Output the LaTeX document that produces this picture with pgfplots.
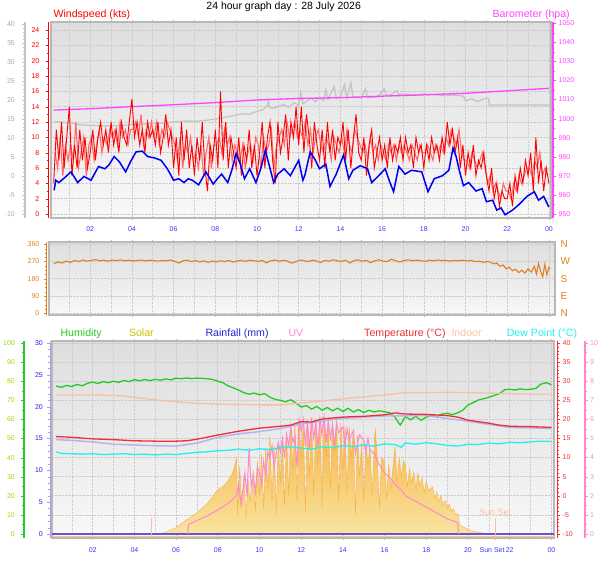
\documentclass[border=0pt]{standalone}
\usepackage{fontspec}
\setmainfont{Liberation Sans}
\usepackage{pgfplots}
\pgfplotsset{compat=1.18}
\definecolor{cRed}{HTML}{FF0000}
\definecolor{cRedL}{HTML}{FF6A6A}
\definecolor{cMag}{HTML}{FF44FF}
\definecolor{cGreyL}{HTML}{C4C4C4}
\definecolor{cGreyT}{HTML}{A8A8A8}
\definecolor{cBlue}{HTML}{0000F0}
\definecolor{cTick}{HTML}{3838FF}
\definecolor{cOr}{HTML}{E0801E}
\definecolor{cHum}{HTML}{22CC22}
\definecolor{cHumT}{HTML}{99DD00}
\definecolor{cSol}{HTML}{C8C000}
\definecolor{cRain}{HTML}{2222DD}
\definecolor{cRainL}{HTML}{6A52D8}
\definecolor{cRainT}{HTML}{A0A0F0}
\definecolor{cUV}{HTML}{FF88CC}
\definecolor{cTemp}{HTML}{F03030}
\definecolor{cInd}{HTML}{F8C0A0}
\definecolor{cDew}{HTML}{22F0F0}
\definecolor{cLav}{HTML}{B4B4F4}
\definecolor{cSolTop}{HTML}{F8B040}
\definecolor{cSolBot}{HTML}{F8E4A0}
\definecolor{bgTop}{HTML}{DEDEDE}
\definecolor{bgBot}{HTML}{F8F8F8}
\definecolor{cFrame}{HTML}{B8B8B8}
\definecolor{cGrid}{HTML}{CCCCCC}
\pgfplotsset{
  /pgf/number format/assume math mode=true,
  /pgf/number format/1000 sep={},
  panel/.style={scale only axis, anchor=south west,
    axis background/.style={shade, top color=bgTop, bottom color=bgBot},
    axis line style={cFrame, line width=1.2pt},
    xmajorgrids, xminorgrids, ymajorgrids,
    grid style={cGrid, densely dotted, line width=0.6pt},
    minor grid style={cGrid, densely dotted, line width=0.6pt},
    xtick={2,4,6,8,10,12,14,16,18,20,22,24}, minor xtick={1,3,5,7,9,11,13,15,17,19,21,23},
    tick align=outside, xtick style={cFrame, line width=0.6pt},
    major tick length=2pt, minor tick length=1.5pt,
    ytick style={draw=none}, yticklabels={},
    xticklabel style={font=\fontsize{7}{8}\selectfont, text=cTick},
    xticklabels={02,04,06,08,10,12,14,16,18,20,22,00}},
  layer/.style={scale only axis, anchor=south west, hide axis},
  sc/.style={scale only axis, width=1pt, xmin=0, xmax=1, hide x axis,
    tick align=outside, major tick length=3pt, minor tick length=2pt,
    yticklabel style={font=\fontsize{7}{7}\selectfont, inner sep=1pt},
    y axis line style={-, line width=1.6pt}},
  scl/.style={sc, anchor=south west, axis y line*=left},
  scr/.style={sc, anchor=south east, axis y line*=right},
}
\begin{document}
\begin{tikzpicture}
\useasboundingbox (0pt,0pt) rectangle (608pt,561pt);
% ---------------- titles ----------------
\node[anchor=base, font=\fontsize{10.5}{12}\selectfont] at (283.7pt,551.7pt) {24 hour graph day : 28 July 2026};
\node[anchor=base west, font=\fontsize{10.6}{12}\selectfont, text=cRed] at (50pt,543pt) {Windspeed (kts)};
\node[anchor=base east, font=\fontsize{10.6}{12}\selectfont, text=cMag] at (573.3pt,543pt) {Barometer (hpa)};
% ---------------- top panel ----------------
\begin{axis}[panel, at={(51pt,343pt)}, width=500pt, height=196pt,
  xmin=0.12, xmax=24.1, ymin=-0.52, ymax=25.04, ytick={0,2,...,24},
  xticklabel style={yshift=-3pt}]
\end{axis}
\begin{axis}[layer, at={(51pt,343pt)}, width=500pt, height=196pt,
  xmin=0.12, xmax=24.1, ymin=-11.05, ymax=40.53]
\addplot[cGreyL, line width=1.3pt] coordinates {(0.25,14.3)(1,14.0)(1.5,13.5)(2,13.3)(3,13.2)(4,13.5)(4.1,14.2)(4.2,13.5)(5,13.8)(6,14.2)(6.5,14.5)(7,14.4)(7.5,14.6)(8,15.0)(8.5,15.5)(9,16.0)(9.3,16.4)(9.6,16.2)(10,17.0)(10.3,17.5)(10.5,18.5)(10.55,19.8)(10.6,18.0)(10.8,17.8)(11,18.2)(11.3,18.8)(11.5,18.0)(11.8,19.3)(12,18.5)(12.1,22.0)(12.2,19.0)(12.6,20.5)(12.8,19.5)(13,20.6)(13.2,19.8)(13.3,22.8)(13.4,20.2)(13.7,23.5)(13.8,20.4)(14,21.0)(14.2,24.0)(14.3,20.5)(14.5,24.5)(14.6,20.8)(15,20.5)(15.2,23.0)(15.3,20.6)(15.8,20.8)(16.1,23.0)(16.2,21.2)(16.5,21.6)(16.7,22.5)(16.8,21.4)(17,21.6)(17.5,21.3)(18,21.5)(18.5,21.4)(19,21.2)(19.5,21.3)(19.9,21.0)(20,19.8)(20.3,20.3)(20.6,19.6)(20.9,20.4)(21.1,20.4)(21.15,18.7)(24.05,18.7)};
\end{axis}
\begin{axis}[layer, at={(51pt,343pt)}, width=500pt, height=196pt,
  xmin=0.12, xmax=24.1, ymin=947.9, ymax=1050.7]
\addplot[cMag, line width=1.3pt] coordinates {(0.25,1004.5)(2,1005.2)(4,1006.3)(6,1007.3)(8,1008.4)(10,1009.8)(12,1010.6)(14,1011.0)(16,1011.8)(18,1012.5)(20,1013.3)(22,1014.6)(24,1015.9)};
\end{axis}
\begin{axis}[layer, at={(51pt,343pt)}, width=500pt, height=196pt,
  xmin=0.12, xmax=24.1, ymin=-0.52, ymax=25.04]
\addplot[cRedL, line width=1.1pt] coordinates {(0.3125,8)(0.4375,6)(0.5625,10)(0.6875,5)(0.8125,9)(0.9375,7)
(1.0625,9)(1.1875,7)(1.3125,12)(1.4375,6)(1.5625,8)(1.6875,10)(1.8125,5)(1.9375,9)
(2.0625,10)(2.1875,7)(2.3125,9)(2.4375,11)(2.5625,8)(2.6875,10)(2.8125,9)(2.9375,11)
(3.0625,10)(3.1875,11)(3.3125,9)(3.4375,12)(3.5625,10)(3.6875,11)(3.8125,9)(3.9375,11)
(4.0625,11)(4.1875,12)(4.3125,10)(4.4375,13)(4.5625,9)(4.6875,11)(4.8125,10)(4.9375,12)
(5.0625,10)(5.1875,12)(5.3125,9)(5.4375,11)(5.5625,10)(5.6875,12)(5.8125,11)(5.9375,10)
(6.0625,9)(6.1875,7)(6.3125,10)(6.4375,6)(6.5625,9)(6.6875,8)(6.8125,10)(6.9375,7)
(7.0625,8)(7.1875,6)(7.3125,9)(7.4375,5)(7.5625,8)(7.6875,10)(7.8125,6)(7.9375,9)
(8.0625,9)(8.1875,10)(8.3125,8)(8.4375,11)(8.5625,9)(8.6875,10)(8.8125,7)(8.9375,9)
(9.0625,8)(9.1875,7)(9.3125,9)(9.4375,6)(9.5625,8)(9.6875,9)(9.8125,7)(9.9375,10)
(10.0625,9)(10.1875,6)(10.3125,10)(10.4375,8)(10.5625,9)(10.6875,11)(10.8125,6)(10.9375,9)
(11.0625,10)(11.1875,11)(11.3125,9)(11.4375,12)(11.5625,10)(11.6875,11)(11.8125,12)(11.9375,10)
(12.0625,11)(12.1875,10)(12.3125,12)(12.4375,9)(12.5625,11)(12.6875,8)(12.8125,10)(12.9375,11)
(13.0625,9)(13.1875,8)(13.3125,10)(13.4375,9)(13.5625,7)(13.6875,10)(13.8125,9)(13.9375,8)
(14.0625,10)(14.1875,8)(14.3125,11)(14.4375,9)(14.5625,8)(14.6875,11)(14.8125,10)(14.9375,9)
(15.0625,8)(15.1875,9)(15.3125,7)(15.4375,10)(15.5625,8)(15.6875,9)(15.8125,7)(15.9375,9)
(16.0625,8)(16.1875,7)(16.3125,9)(16.4375,8)(16.5625,9)(16.6875,7)(16.8125,9)(16.9375,8)
(17.0625,9)(17.1875,8)(17.3125,7)(17.4375,9)(17.5625,8)(17.6875,7)(17.8125,9)(17.9375,8)
(18.0625,8)(18.1875,9)(18.3125,8)(18.4375,7)(18.5625,9)(18.6875,8)(18.8125,9)(18.9375,8)
(19.0625,10)(19.1875,9)(19.3125,11)(19.4375,10)(19.5625,9)(19.6875,11)(19.8125,8)(19.9375,7)
(20.0625,7)(20.1875,6)(20.3125,8)(20.4375,7)(20.5625,6)(20.6875,7)(20.8125,8)(20.9375,6)
(21.0625,4)(21.1875,5)(21.3125,3)(21.4375,4)(21.5625,3)(21.6875,2)(21.8125,4)(21.9375,3)
(22.0625,3)(22.1875,2)(22.3125,4)(22.4375,3)(22.5625,5)(22.6875,4)(22.8125,5)(22.9375,6)
(23.0625,6)(23.1875,5)(23.3125,7)(23.4375,6)(23.5625,8)(23.6875,5)(23.8125,6)(23.9375,5)};
\addplot[cRed, line width=0.9pt] coordinates {(0.25,4)(0.375,11)(0.5,7)(0.625,12)(0.75,6)(0.875,10)
(1,14)(1.125,5)(1.25,9)(1.375,6)(1.5,11)(1.625,7)(1.75,10)(1.875,6)
(2,8)(2.125,11)(2.25,7)(2.375,10)(2.5,12)(2.625,9)(2.75,11)(2.875,8)
(3,12)(3.125,9)(3.25,11)(3.375,8)(3.5,12)(3.625,10)(3.75,9)(3.875,12)
(4,15)(4.125,10)(4.25,12)(4.375,9)(4.5,11)(4.625,8)(4.75,12)(4.875,10)
(5,11)(5.125,9)(5.25,12)(5.375,8)(5.5,10)(5.625,13)(5.75,9)(5.875,11)
(6,6)(6.125,10)(6.25,5)(6.375,12)(6.5,7)(6.625,11)(6.75,6)(6.875,9)
(7,5)(7.125,10)(7.25,7)(7.375,12)(7.5,6)(7.625,3)(7.75,9)(7.875,7)
(8,11)(8.125,6)(8.25,16)(8.375,7)(8.5,12)(8.625,6)(8.75,10)(8.875,8)
(9,6)(9.125,10)(9.25,5)(9.375,9)(9.5,7)(9.625,11)(9.75,6)(9.875,9)
(10,5)(10.125,8)(10.25,12)(10.375,6)(10.5,10)(10.625,12)(10.75,7)(10.875,4)
(11,12)(11.125,8)(11.25,10)(11.375,13)(11.5,7)(11.625,12)(11.75,10)(11.875,14)
(12,9)(12.125,14)(12.25,8)(12.375,13)(12.5,10)(12.625,6)(12.75,12)(12.875,9)
(13,7)(13.125,11)(13.25,6)(13.375,12)(13.5,8)(13.625,11)(13.75,7)(13.875,10)
(14,9)(14.125,12)(14.25,7)(14.375,11)(14.5,6)(14.625,10)(14.75,13)(14.875,8)
(15,7)(15.125,10)(15.25,5)(15.375,9)(15.5,11)(15.625,6)(15.75,8)(15.875,10)
(16,7)(16.125,9)(16.25,6)(16.375,10)(16.5,7)(16.625,9)(16.75,8)(16.875,10)
(17,7)(17.125,10)(17.25,8)(17.375,9)(17.5,6)(17.625,10)(17.75,8)(17.875,9)
(18,6)(18.125,9)(18.25,7)(18.375,10)(18.5,8)(18.625,9)(18.75,7)(18.875,10)
(19,8)(19.125,12)(19.25,9)(19.375,11)(19.5,8)(19.625,10)(19.75,6)(19.875,9)
(20,5)(20.125,8)(20.25,6)(20.375,9)(20.5,5)(20.625,7)(20.75,6)(20.875,8)
(21,5)(21.125,3)(21.25,6)(21.375,2)(21.5,4)(21.625,1)(21.75,3)(21.875,2)
(22,2)(22.125,4)(22.25,1)(22.375,5)(22.5,3)(22.625,6)(22.75,4)(22.875,7)
(23,5)(23.125,8)(23.25,3)(23.375,10)(23.5,4)(23.625,7)(23.75,3)(23.875,6)(24,4)};
\addplot[cBlue, line width=1.5pt] coordinates {(0.27,3.1)(0.35,4.4)(0.5,4.1)(0.8,4.8)(1.08,5.5)(1.4,4.1)(1.7,4.9)(2.04,4.4)(2.4,6.2)(2.7,5.9)(2.9,6.4)(3.15,7.5)(3.4,6.8)(3.7,5.5)(3.95,6.9)(4.2,8.1)(4.5,8.2)(4.75,7.5)(5.1,7.3)(5.4,7.0)(5.7,5.9)(6.0,4.4)(6.25,4.6)(6.5,4.1)(6.7,4.6)(6.9,4.4)(7.2,3.8)(7.55,5.5)(7.9,3.9)(8.1,4.6)(8.3,5.2)(8.6,4.1)(8.8,5.8)(9.0,7.9)(9.2,6.5)(9.4,4.6)(9.65,5.9)(9.95,4.1)(10.2,6.1)(10.4,8.3)(10.6,6.2)(10.8,4.1)(11.0,5.2)(11.3,5.9)(11.6,5.0)(12.0,7.0)(12.2,4.4)(12.3,5.1)(12.55,8.1)(12.8,7.0)(13.0,5.9)(13.3,6.5)(13.5,3.6)(13.8,5.2)(14.15,7.7)(14.4,4.6)(14.6,5.7)(14.95,6.3)(15.3,5.9)(15.5,4.1)(15.8,4.9)(16.15,5.9)(16.35,4.3)(16.55,2.9)(16.8,6.2)(17.1,5.2)(17.4,5.7)(17.65,5.6)(17.9,5.5)(18.2,2.9)(18.5,4.6)(18.9,5.0)(19.2,5.7)(19.4,8.6)(19.55,7.5)(19.7,5.7)(19.9,3.7)(20.15,4.1)(20.5,3.0)(20.8,3.3)(21.0,1.6)(21.3,1.8)(21.5,0.5)(21.7,0.8)(21.9,-0.1)(22.25,0.5)(22.55,1.2)(22.95,2.3)(23.3,2.9)(23.5,1.8)(23.75,2.3)(24.0,0.9)};
\end{axis}
% top scales
\begin{axis}[scl, at={(25pt,343pt)}, height=196pt, ymin=-11.05, ymax=40.53,
  ytick={-10,-5,...,40}, minor y tick num=4, y axis line style={cGreyL},
  ytick style={cGreyL}, yticklabel style={text=cGreyT, xshift=-6pt}]
\end{axis}
\begin{axis}[scl, at={(48.5pt,343pt)}, height=196pt, ymin=-0.52, ymax=25.04,
  ytick={0,2,...,24}, minor y tick num=1, y axis line style={cRed},
  ytick style={cRed}, yticklabel style={text=cRed, xshift=-5pt}]
\end{axis}
\begin{axis}[scr, at={(553pt,343pt)}, height=196pt, ymin=947.9, ymax=1050.7,
  ytick={950,960,...,1050}, minor y tick num=1, y axis line style={cMag},
  ytick style={cMag}, yticklabel style={text=cMag, xshift=1.5pt}]
\end{axis}
% ---------------- middle panel ----------------
\begin{axis}[panel, at={(49pt,246pt)}, width=506pt, height=73pt,
  xmin=0.024, xmax=24.29, ymin=-8.9, ymax=372, ytick={0,90,...,360},
  xticklabels={}, yticklabels={N,E,S,W,N}, yticklabel pos=right,
  yticklabel style={text=cOr, font=\fontsize{10}{11}\selectfont}]
\addplot[cOr, line width=1.1pt] coordinates {(0.25,258)(0.45,268)(0.65,262)(0.85,272)(1.05,266)(1.25,275)(1.45,270)(1.65,278)(1.85,272)(2.05,276)(2.25,280)(2.45,274)(2.65,277)(2.85,272)(3.05,278)(3.25,275)(3.45,279)(3.65,274)(3.85,277)(4.05,273)(4.25,276)(4.45,278)(4.65,274)(4.85,277)(5.05,275)(5.25,272)(5.45,276)(5.65,274)(5.85,278)(6.05,271)(6.25,262)(6.45,274)(6.65,277)(6.85,270)(7.05,275)(7.25,268)(7.45,273)(7.65,266)(7.85,272)(8.05,268)(8.25,274)(8.45,270)(8.65,276)(8.85,267)(9.05,273)(9.25,276)(9.45,271)(9.65,277)(9.85,274)(10.05,270)(10.25,276)(10.45,263)(10.65,274)(10.85,278)(11.05,272)(11.25,276)(11.45,273)(11.65,262)(11.85,268)(12.05,278)(12.25,274)(12.45,270)(12.65,277)(12.85,273)(13.05,265)(13.25,276)(13.45,272)(13.65,279)(13.85,274)(14.05,270)(14.25,277)(14.45,262)(14.65,275)(14.85,279)(15.05,272)(15.25,276)(15.45,264)(15.65,274)(15.85,279)(16.05,272)(16.25,270)(16.45,282)(16.65,274)(16.85,268)(17.05,276)(17.25,279)(17.45,274)(17.65,277)(17.85,275)(18.05,270)(18.25,277)(18.45,274)(18.65,278)(18.85,275)(19.05,277)(19.25,272)(19.45,276)(19.65,274)(19.85,277)(20.05,273)(20.25,276)(20.45,270)(20.65,272)(20.85,266)(21.05,270)(21.2,266)(21.35,258)(21.5,262)(21.65,245)(21.8,252)(21.95,232)(22.1,240)(22.25,222)(22.4,230)(22.55,212)(22.7,225)(22.85,210)(23.0,232)(23.15,215)(23.3,245)(23.4,205)(23.5,260)(23.6,220)(23.7,190)(23.8,255)(23.9,200)(24.0,240)(24.05,230)};
\end{axis}
\begin{axis}[scl, at={(46.5pt,246pt)}, height=73pt, ymin=-8.9, ymax=372,
  ytick={0,90,...,360}, minor y tick num=3, y axis line style={cOr, line width=0.8pt},
  ytick style={cOr}, yticklabel style={text=cOr, xshift=-3pt}]
\end{axis}
% ---------------- bottom labels ----------------
\node[anchor=base west, font=\fontsize{10.6}{12}\selectfont, text=cHum] at (57pt,224pt) {Humidity};
\node[anchor=base west, font=\fontsize{10.6}{12}\selectfont, text=cSol] at (125.5pt,224pt) {Solar};
\node[anchor=base west, font=\fontsize{10.6}{12}\selectfont, text=cRain] at (202pt,224pt) {Rainfall (mm)};
\node[anchor=base west, font=\fontsize{10.6}{12}\selectfont, text=cUV] at (285pt,224pt) {UV};
\node[anchor=base west, font=\fontsize{10.6}{12}\selectfont, text=cTemp] at (360.7pt,224pt) {Temperature (°C)};
\node[anchor=base west, font=\fontsize{10.6}{12}\selectfont, text=cInd] at (448pt,224pt) {Indoor};
\node[anchor=base west, font=\fontsize{10.6}{12}\selectfont, text=cDew] at (503.3pt,224pt) {Dew Point (°C)};
% ---------------- bottom panel ----------------
\begin{axis}[panel, at={(52pt,23pt)}, width=502pt, height=197pt,
  xmin=0.048, xmax=24.125, ymin=-11.05, ymax=40.52, ytick={-10,-5,...,40},
  xticklabel style={yshift=-4pt},
  extra x ticks={21.3}, extra x tick labels={Sun Set},
  extra x tick style={grid=none, xticklabel style={xshift=-3pt}}]
\end{axis}
\begin{axis}[layer, at={(52pt,23pt)}, width=502pt, height=197pt,
  xmin=0.048, xmax=24.125, ymin=-0.63, ymax=30.31]
\addplot[draw=cSolTop, line width=0.4pt, top color=cSolTop, bottom color=cSolBot] coordinates {(5.2,0)(5.5,0.3)(6.0,1.0)(6.5,2.2)(7.0,3.3)(7.5,4.8)(8.0,6.9)(8.3,7.6)(8.5,8.4)(8.7,9.5)(8.9,11.9)(8.95,3.0)(9.05,10.6)(9.15,4.0)(9.25,9.0)(9.35,2.5)(9.45,8.5)(9.55,5.0)(9.7,10.0)(9.8,3.5)(9.9,11.5)(10.0,6.0)(10.1,12.5)(10.2,4.0)(10.3,13.5)(10.4,7.0)(10.5,15.3)(10.6,5.0)(10.7,14.0)(10.8,3.0)(10.9,14.2)(11.0,8.0)(11.1,15.0)(11.2,4.5)(11.3,16.0)(11.4,6.0)(11.5,16.9)(11.6,10.0)(11.7,17.2)(11.8,5.0)(11.9,17.7)(12.0,12.0)(12.1,17.5)(12.2,3.5)(12.3,17.9)(12.4,9.0)(12.5,17.9)(12.6,6.0)(12.7,18.2)(12.8,11.0)(12.9,18.4)(13.0,4.0)(13.1,18.4)(13.2,12.0)(13.3,18.0)(13.4,7.0)(13.5,17.8)(13.6,13.0)(13.7,17.9)(13.8,5.0)(13.9,17.5)(14.0,10.0)(14.1,17.0)(14.2,6.0)(14.3,16.8)(14.4,12.0)(14.5,16.3)(14.6,3.0)(14.7,15.5)(14.8,9.0)(14.9,14.5)(15.0,5.0)(15.1,14.2)(15.2,11.0)(15.3,13.5)(15.4,6.0)(15.55,16.6)(15.65,12.0)(15.75,4.0)(15.85,12.0)(16.0,11.4)(16.1,5.5)(16.2,11.0)(16.3,7.0)(16.4,10.5)(16.5,13.7)(16.6,8.0)(16.7,12.0)(16.8,9.0)(16.9,11.5)(17.0,10.6)(17.1,7.5)(17.2,10.3)(17.3,8.0)(17.4,9.8)(17.5,7.0)(17.6,9.5)(17.7,7.5)(17.8,8.8)(17.9,6.5)(18.0,8.3)(18.1,6.8)(18.3,7.4)(18.4,5.5)(18.5,6.6)(18.6,5.0)(18.7,6.0)(18.8,4.5)(18.9,5.3)(19.0,4.0)(19.1,4.7)(19.2,3.5)(19.3,4.0)(19.4,3.0)(19.5,3.2)(19.6,1.5)(19.7,1.2)(19.9,0.9)(20.0,0.6)(20.3,0.4)(20.6,0.2)(20.8,0.1)(20.9,0)} \closedcycle;
\addplot[cSolTop!50!cSolBot, line width=1.5pt] coordinates {(0,-0.42)(24.2,-0.42)};
\addplot[cRainL, line width=2pt] coordinates {(0,0)(24.2,0)};
\addplot[cInd, line width=1pt] coordinates {(4.8,-0.7)(4.8,2.5)};
\addplot[cInd, line width=1pt] coordinates {(21.3,-0.7)(21.3,2.5)};
\node[text=cInd, font=\fontsize{9}{10}\selectfont] at (axis cs:21.3,3.4) {Sun Set};
\end{axis}
\begin{axis}[layer, at={(52pt,23pt)}, width=502pt, height=197pt,
  xmin=0.048, xmax=24.125, ymin=-0.21, ymax=10.1]
\addplot[cUV, line width=1pt] coordinates {(6.55,0)(6.6,0.5)(7.0,0.7)(7.5,0.95)(8.0,1.26)(8.5,1.6)(8.9,2.0)(9.0,2.6)(9.1,1.6)(9.2,2.3)(9.3,3.2)(9.4,2.0)(9.5,4.5)(9.6,2.5)(9.7,3.0)(9.8,2.2)(9.9,3.5)(10.0,3.2)(10.1,2.6)(10.2,3.8)(10.3,3.0)(10.4,4.3)(10.5,4.0)(10.6,4.6)(10.7,3.5)(10.8,4.2)(10.9,4.8)(11.0,4.3)(11.1,5.0)(11.2,4.0)(11.3,5.2)(11.4,4.6)(11.5,5.6)(11.6,4.8)(11.7,5.1)(11.8,3.5)(11.9,6.0)(12.0,5.4)(12.1,6.0)(12.2,4.6)(12.3,5.9)(12.4,4.4)(12.5,6.1)(12.6,5.0)(12.7,5.8)(12.8,4.5)(12.9,6.0)(13.0,5.2)(13.1,6.1)(13.2,4.8)(13.3,5.9)(13.4,5.0)(13.5,5.7)(13.6,4.6)(13.7,5.8)(13.8,5.3)(14.0,5.6)(14.1,4.6)(14.2,5.5)(14.3,4.9)(14.5,5.4)(14.6,4.2)(14.8,5.2)(15.0,4.9)(15.1,4.3)(15.2,5.0)(15.3,4.4)(15.5,4.2)(15.7,3.7)(16.0,3.2)(16.3,2.9)(16.5,2.6)(16.8,2.3)(17.0,2.0)(17.5,1.7)(18.0,1.4)(18.5,1.1)(19.0,0.8)(19.5,0.6)(19.55,0)};
\end{axis}
\begin{axis}[layer, at={(52pt,23pt)}, width=502pt, height=197pt,
  xmin=0.048, xmax=24.125, ymin=-2.09, ymax=101.05]
\addplot[cHum, line width=1.3pt] coordinates {(0.25,77.5)(0.5,76.8)(0.75,77.8)(1,77.2)(1.25,78.3)(1.5,77.6)(1.75,78.9)(2,79.5)(2.25,78.8)(2.5,79.8)(2.75,79.2)(3,80.0)(3.25,79.4)(3.5,80.4)(3.75,79.8)(4,80.8)(4.25,80.2)(4.5,80.9)(4.75,80.3)(5,81.0)(5.25,80.5)(5.5,81.2)(5.75,80.7)(6,81.6)(6.25,81.3)(6.5,81.7)(6.75,81.4)(7,81.6)(7.25,81.5)(7.5,81.3)(7.75,80.9)(8,80.0)(8.25,79.2)(8.5,77.5)(8.75,76.5)(9,75.3)(9.25,74.0)(9.5,73.2)(9.75,73.8)(10,72.9)(10.25,73.5)(10.5,71.6)(10.75,70.5)(11,70.0)(11.25,69.2)(11.5,70.3)(11.75,68.5)(12,66.5)(12.25,67.2)(12.5,65.4)(12.75,66.8)(13,64.8)(13.25,66.2)(13.5,64.5)(13.75,65.9)(14,64.2)(14.25,65.8)(14.5,63.9)(14.75,65.1)(15,63.6)(15.25,64.8)(15.5,63.9)(15.75,64.5)(16,64.0)(16.25,63.5)(16.5,61.0)(16.75,57.0)(17,61.5)(17.25,59.8)(17.5,61.6)(17.75,59.5)(18,61.2)(18.25,62.0)(18.5,61.4)(18.75,62.8)(19,63.2)(19.25,62.5)(19.5,63.4)(19.75,64.8)(20,67.5)(20.25,68.8)(20.5,70.2)(20.75,70.8)(21,71.6)(21.25,72.5)(21.5,73.4)(21.75,75.5)(22,75.8)(22.25,75.4)(22.5,76.0)(22.75,75.6)(23,75.8)(23.25,76.2)(23.5,78.5)(23.75,79.2)(24,78.2)};
\end{axis}
\begin{axis}[layer, at={(52pt,23pt)}, width=502pt, height=197pt,
  xmin=0.048, xmax=24.125, ymin=-11.05, ymax=40.52]
\addplot[cInd, line width=1.3pt] coordinates {(0.25,26.4)(2,26.4)(3,26.3)(3.5,26.1)(4,25.8)(5,25.1)(6,24.6)(7,24.2)(8,24.0)(9,23.9)(10,23.8)(11,23.8)(12,24.3)(13,24.8)(14,25.4)(15,25.9)(16,26.4)(17,27.0)(18,27.0)(19,27.1)(20,27.0)(21,26.9)(22,26.7)(23,26.6)(24,26.6)};
\addplot[cLav, line width=1.5pt] coordinates {(0.25,14.7)(1,14.5)(2,14.1)(3,13.5)(4,13.3)(5,13.1)(6,13.0)(7,13.8)(8,15.3)(9,16.2)(10,16.8)(11,17.6)(12,18.8)(13,19.6)(14,20.3)(16,20.9)(18,21.0)(20,19.5)(22,17.9)(24,17.6)};
\addplot[cTemp, line width=1.3pt] coordinates {(0.25,15.5)(1,15.3)(2,14.9)(3,14.7)(4,14.4)(5,14.3)(6,14.3)(6.5,14.4)(7,14.8)(8,15.9)(9,16.9)(10,17.7)(11,18.2)(11.5,18.5)(12,19.4)(12.5,19.3)(13,20.1)(14,20.6)(15,20.8)(16,21.2)(16.5,21.7)(17,21.4)(18,21.3)(19,21.0)(19.5,20.6)(20,19.8)(21,19.0)(21.5,18.5)(22,18.2)(23,18.1)(24,17.9)};
\addplot[cDew, line width=1.3pt] coordinates {(0.25,11.5)(0.5,11.1)(1,11.0)(1.5,10.9)(2,11.0)(2.5,10.8)(3,10.9)(3.5,11.0)(4,10.8)(4.5,10.9)(5,10.7)(5.5,10.9)(6,10.8)(6.5,11.1)(7,11.4)(7.5,11.5)(8,11.8)(8.5,11.9)(9,12.2)(9.5,11.9)(10,12.3)(10.5,12.1)(11,12.6)(11.5,12.8)(12,12.5)(12.5,12.2)(13,12.8)(13.5,12.6)(14,13.1)(14.5,12.9)(15,13.3)(15.5,13.0)(16,13.6)(16.5,13.4)(16.8,12.7)(17,13.8)(17.5,13.5)(18,13.9)(18.5,13.6)(19,13.2)(19.5,13.0)(20,13.5)(20.5,13.4)(21,13.8)(21.5,13.6)(22,14.0)(22.5,13.9)(23,14.1)(23.5,14.3)(24,14.2)};
\end{axis}
% bottom scales
\begin{axis}[scl, at={(24pt,23pt)}, height=197pt, ymin=-2.09, ymax=101.05,
  ytick={0,10,...,100}, minor y tick num=1, y axis line style={cHum, line width=2pt},
  ytick style={cHum}, yticklabel style={text=cHumT, xshift=-5pt}]
\end{axis}
\begin{axis}[scl, at={(50pt,23pt)}, height=197pt, ymin=-0.63, ymax=30.31,
  ytick={0,5,...,30}, minor y tick num=4, y axis line style={cRainT, line width=0.8pt},
  ytick style={cRainT}, yticklabel style={text=cRain, xshift=-3pt}]
\end{axis}
\begin{axis}[scr, at={(557pt,23pt)}, height=197pt, ymin=-11.05, ymax=40.52,
  ytick={-10,-5,...,40}, minor y tick num=4, y axis line style={cTemp, line width=0.8pt},
  ytick style={cTemp}, yticklabel style={text=cTemp, xshift=1.5pt}]
\end{axis}
\begin{axis}[scr, at={(585pt,23pt)}, height=197pt, ymin=-0.21, ymax=10.1,
  ytick={0,1,...,10}, minor y tick num=1, y axis line style={cUV, line width=2pt},
  ytick style={cUV}, yticklabel style={text=cUV, xshift=1pt}]
\end{axis}
\end{tikzpicture}
\end{document}
